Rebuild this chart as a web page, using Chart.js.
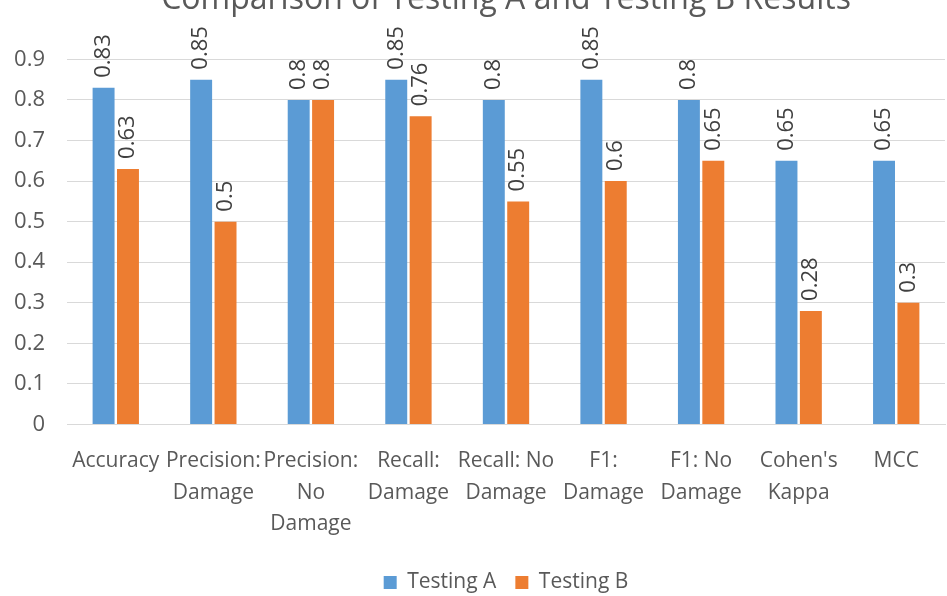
<!DOCTYPE html>
<html>
<head>
<meta charset="utf-8">
<script src="https://cdn.jsdelivr.net/npm/chart.js@4.4.0/dist/chart.umd.min.js"></script>
<style>
  html, body { margin: 0; padding: 0; background: #fff; overflow: hidden; }
  #wrap { position: absolute; left: 0; top: -21px; width: 947px; height: 628px; }
</style>
</head>
<body>
<div id="wrap"><canvas id="grafico"></canvas></div>
<script>
// dados
const categorias = [
  'Accuracy',
  ['Precision:', 'Damage'],
  ['Precision:', 'No', 'Damage'],
  ['Recall:', 'Damage'],
  ['Recall: No', 'Damage'],
  ['F1:', 'Damage'],
  ['F1: No', 'Damage'],
  ["Cohen's", 'Kappa'],
  'MCC'
];
const testingA = [0.83, 0.85, 0.8, 0.85, 0.8, 0.85, 0.8, 0.65, 0.65];
const testingB = [0.63, 0.5, 0.8, 0.76, 0.55, 0.6, 0.65, 0.28, 0.3];

Chart.defaults.font.family = '"Open Sans", Lato, sans-serif';
Chart.defaults.color = '#595959';

// rótulos de valor girados acima das barras
const rotulos = {
  id: 'rotulos',
  afterDatasetsDraw(chart) {
    const ctx = chart.ctx;
    ctx.save();
    ctx.font = '22px "Open Sans", Lato, sans-serif';
    ctx.fillStyle = '#404040';
    ctx.textAlign = 'left';
    ctx.textBaseline = 'middle';
    chart.data.datasets.forEach((ds, i) => {
      chart.getDatasetMeta(i).data.forEach((bar, j) => {
        ctx.save();
        ctx.translate(bar.x, bar.y - 10);
        ctx.rotate(-Math.PI / 2);
        ctx.fillText(String(ds.data[j]), 0, 0);
        ctx.restore();
      });
    });
    ctx.restore();
  }
};

const canvas = document.getElementById('grafico');
new Chart(canvas, {
  type: 'bar',
  data: {
    labels: categorias,
    datasets: [{
      label: 'Testing A',
      data: testingA,
      backgroundColor: '#5b9bd5',
      categoryPercentage: 0.5,
      barPercentage: 0.9
    }, {
      label: 'Testing B',
      data: testingB,
      backgroundColor: '#ed7d31',
      categoryPercentage: 0.5,
      barPercentage: 0.9
    }]
  },
  options: {
    responsive: true,
    maintainAspectRatio: false,
    animation: false,
    layout: { padding: { left: 0, right: 2, top: 0, bottom: 4 } },
    plugins: {
      title: {
        display: true,
        fullSize: false,
        text: 'Comparison of Testing A and Testing B Results',
        font: { size: 32, weight: 'normal' },
        color: '#595959',
        padding: { top: 2, bottom: 40 }
      },
      legend: {
        position: 'bottom',
        fullSize: false,
        labels: {
          font: { size: 21 },
          boxWidth: 13,
          boxHeight: 13,
          padding: 19
        }
      },
      tooltip: { enabled: false }
    },
    scales: {
      y: {
        min: 0,
        max: 0.9,
        ticks: { stepSize: 0.1, font: { size: 22 }, padding: 22 },
        grid: { color: '#d9d9d9', drawTicks: false },
        border: { display: false },
        afterFit(scale) { scale.width = 67; }
      },
      x: {
        ticks: { font: { size: 21, lineHeight: 1.5 }, maxRotation: 0, autoSkip: false, padding: 13 },
        grid: { display: false },
        border: { color: '#d9d9d9' }
      }
    }
  },
  plugins: [rotulos]
});
</script>
</body>
</html>
